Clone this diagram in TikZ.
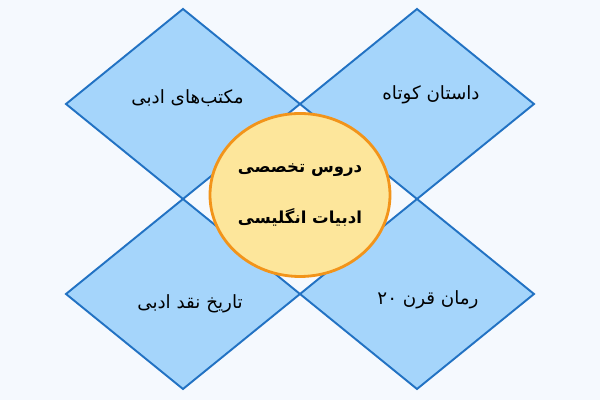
\documentclass[tikz,border=0pt]{standalone}
\usepackage{fontspec}
\newfontfamily\fafont[Script=Arabic]{DejaVu Sans}
\TeXXeTstate=1
\usetikzlibrary{positioning, shapes.geometric}
\definecolor{bgpage}{HTML}{F5F9FE}
\definecolor{diafill}{HTML}{A5D5FB}
\definecolor{diadraw}{HTML}{2272C3}
\definecolor{ovalfill}{HTML}{FDE69B}
\definecolor{ovaldraw}{HTML}{F2941A}

\begin{document}
\begin{tikzpicture}[
topicnode/.style={diamond, draw=diadraw, fill=diafill, line width=1.1pt, minimum width=4.68cm, minimum height=3.8cm, inner sep=0pt, outer sep=0pt},
centernode/.style={ellipse, draw=ovaldraw, fill=ovalfill, line width=1.6pt, minimum width=3.6cm, minimum height=3.26cm, inner sep=0pt, align=center, font=\fafont\bfseries\fontsize{9.4}{11}\selectfont},
labelnode/.style={font=\fafont\fontsize{10.4}{12}\selectfont, inner sep=0pt},
]
    \fill[bgpage] (0,0) rectangle (12,8);
    \useasboundingbox (0,0) rectangle (12,8);

    \node[topicnode]   (schools)    at (3.66,5.92)            {};
    \node[topicnode]   (story)      [right=0pt of schools]    {};
    \node[topicnode]   (criticism)  [below=0pt of schools]    {};
    \node[topicnode]   (novel)      [right=0pt of criticism]  {};

    \node[labelnode]   (schoolstext)    at ([xshift=0.09cm, yshift=0.12cm]schools.center)    {\beginR مکتب‌های ادبی\endR};
    \node[labelnode]   (storytext)      at ([xshift=0.28cm, yshift=0.18cm]story.center)      {\beginR داستان کوتاه\endR};
    \node[labelnode]   (criticismtext)  at ([xshift=0.14cm, yshift=-0.2cm]criticism.center)  {\beginR تاریخ نقد ادبی\endR};
    \node[labelnode]   (noveltext)      at ([xshift=0.22cm, yshift=-0.12cm]novel.center)     {\beginR رمان قرن ۲۰\endR};

    \node[centernode]  (courses)    at (6,4.1)  {\beginR دروس تخصصی\endR\\[18pt]\beginR ادبیات انگلیسی\endR};
\end{tikzpicture}
\end{document}
